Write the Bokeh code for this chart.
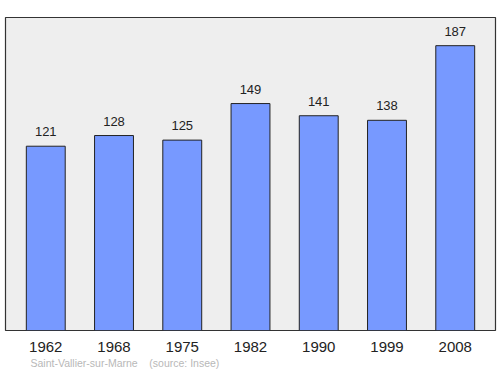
from bokeh.plotting import figure
from bokeh.models import ColumnDataSource, LabelSet, Title, FixedTicker
from bokeh.core.properties import value
from bokeh.embed import file_html
from bokeh.resources import INLINE

years = ["1962", "1968", "1975", "1982", "1990", "1999", "2008"]
population = [121, 128, 125, 149, 141, 138, 187]
commune = "Saint-Vallier-sur-Marne"
source_note = "(source: Insee)"

xs = list(range(len(years)))
src = ColumnDataSource(dict(x=xs, top=population, lab=[str(v) for v in population]))

p = figure(width=500, height=374, output_backend="svg", toolbar_location=None,
           x_range=(-0.59, 6.59), y_range=(0, 205.5),
           min_border_left=5, min_border_right=5, min_border_top=17, min_border_bottom=44)
p.background_fill_color = "#eeeeee"
p.border_fill_color = "white"
p.outline_line_color = "#333333"
p.outline_line_width = 1.2
p.grid.visible = False
p.yaxis.visible = False

p.vbar(x="x", top="top", bottom=0, width=0.57, source=src,
       fill_color="#7799ff", line_color="#222222", line_width=1)

labels = LabelSet(x="x", y="top", text="lab", source=src, text_align="center",
                  text_baseline="bottom", y_offset=10, text_font=value("Liberation Sans"),
                  text_font_size=value("13px"), text_color=value("#222222"))
p.add_layout(labels)

ax = p.xaxis[0]
ax.ticker = FixedTicker(ticks=xs)
ax.major_label_overrides = {i: y for i, y in enumerate(years)}
ax.major_tick_line_color = None
ax.minor_tick_line_color = None
ax.axis_line_color = None
ax.major_label_standoff = 5
ax.major_label_text_font = "Liberation Sans"
ax.major_label_text_font_size = "15px"
ax.major_label_text_color = "#222222"

note = Title(text=commune + "\u00a0\u00a0\u00a0\u00a0" + source_note,
             align="left", offset=25, text_font="Liberation Sans",
             text_font_size="10.5px", text_font_style="normal",
             text_color="#b8b8b8", standoff=0)
p.add_layout(note, "below")

open("out.html", "w").write(file_html(p, INLINE))
